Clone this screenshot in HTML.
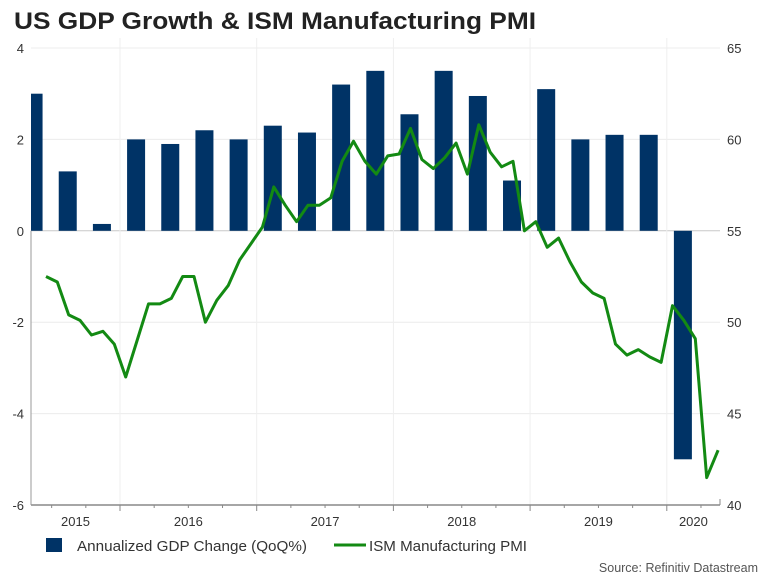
<!DOCTYPE html>
<html><head><meta charset="utf-8"><style>
body{margin:0;background:#fff;font-family:"Liberation Sans",Arial,sans-serif;}
svg text{font-family:"Liberation Sans",Arial,sans-serif;}
</style></head><body>
<svg id="chart" width="768" height="576" viewBox="0 0 768 576" xmlns="http://www.w3.org/2000/svg">
<text x="14" y="29" font-size="24" font-weight="bold" fill="#222" textLength="522" lengthAdjust="spacingAndGlyphs">US GDP Growth &amp; ISM Manufacturing PMI</text>
<g id="grid"></g><g id="bars"></g><g id="line"></g><g id="axes"></g>
<g>
<rect x="46" y="538" width="16" height="14" fill="#003366"/>
<text x="77" y="551" font-size="15" fill="#333" textLength="230" lengthAdjust="spacingAndGlyphs">Annualized GDP Change (QoQ%)</text>
<line x1="334" y1="545" x2="366" y2="545" stroke="#138a13" stroke-width="3"/>
<text x="369" y="551" font-size="15" fill="#333" textLength="158" lengthAdjust="spacingAndGlyphs">ISM Manufacturing PMI</text>
</g>
<text x="758" y="572" font-size="12.5" fill="#555" text-anchor="end">Source: Refinitiv Datastream</text>
</svg>
<script>
const gdpQuarters = ["2015Q2","2015Q3","2015Q4","2016Q1","2016Q2","2016Q3","2016Q4","2017Q1","2017Q2","2017Q3","2017Q4","2018Q1","2018Q2","2018Q3","2018Q4","2019Q1","2019Q2","2019Q3","2019Q4","2020Q1"];
const gdpValues = [3.0,1.3,0.15,2.0,1.9,2.2,2.0,2.3,2.15,3.2,3.5,2.55,3.5,2.95,1.1,3.1,2.0,2.1,2.1,-5.0];
const pmiStartMonth = 5; // months since Jan 2015 (June 2015)
const pmiValues = [52.5,52.2,50.4,50.1,49.3,49.5,48.8,
47.0,49.0,51.0,51.0,51.3,52.5,52.5,50.0,51.2,52.0,53.4,54.3,
55.2,57.4,56.4,55.5,56.4,56.4,56.8,58.8,59.9,58.8,58.1,59.1,
59.2,60.6,58.9,58.4,59.0,59.8,58.1,60.8,59.3,58.5,58.8,55.0,
55.5,54.1,54.6,53.3,52.2,51.6,51.3,48.8,48.2,48.5,48.1,47.8,
50.9,50.1,49.1,41.5,43.0];
const leftTicks = [4,2,0,-2,-4,-6];
const rightTicks = [65,60,55,50,45,40];
const yearLabels = ["2015","2016","2017","2018","2019","2020"];

const X0=31,X1=720,Y0=48,Y1=505;
const NS="http://www.w3.org/2000/svg";
const monthW=136.7/12, jan2015=-16.7;
const xMonth=m=>jan2015+m*monthW;
const yL=v=>Y0+(4-v)*(Y1-Y0)/10;
const yR=v=>Y0+(65-v)*(Y1-Y0)/25;
function mk(tag,attrs,parent){const e=document.createElementNS(NS,tag);for(const k in attrs)e.setAttribute(k,attrs[k]);document.getElementById(parent).appendChild(e);return e;}

leftTicks.forEach(t=>{
  const g=mk('line',{x1:X0,x2:X1,y1:yL(t),y2:yL(t),stroke:t===0?'#c8c8c8':'#ececec','stroke-width':1},'grid');
  
  
  const l=mk('text',{x:24,y:yL(t)+5,'font-size':13,fill:'#333','text-anchor':'end'},'axes');
  l.textContent=t;
  
  
});
rightTicks.forEach(t=>{
  const l=mk('text',{x:727,y:yR(t)+5,'font-size':13,fill:'#333'},'axes');
  l.textContent=t;
  
  
});
yearLabels.forEach((y,i)=>{
  const xs=xMonth(12*(i+1));
  if(i<5){
    const g=mk('line',{x1:xs,x2:xs,y1:Y0-10,y2:Y1,stroke:'#efefef','stroke-width':1},'grid');
    
    
  }
  const a=Math.max(X0,xMonth(12*i)),b=Math.min(X1,xMonth(12*(i+1)));
  const l=mk('text',{x:(a+b)/2,y:526,'font-size':13,fill:'#333','text-anchor':'middle'},'axes');
  l.textContent=y;
  
  
});
for(let q=1;q<=22;q++){
  const x=xMonth(3*q); if(x<X0||x>X1)continue;
  const t=mk('line',{x1:x,x2:x,y1:Y1,y2:Y1+(q%4===0?6:3),stroke:'#888'},'axes');
  
  
}
const bw=18;
gdpValues.forEach((v,i)=>{
  const c=xMonth(3*(i+1)+1.5)-1;
  let x=c-bw/2,w=bw; if(x<X0){w-=X0-x;x=X0;}
  const y=Math.min(yL(v),yL(0)),h=Math.abs(yL(v)-yL(0));
  const r=mk('rect',{x:x,y:y,width:w,height:h,fill:'#003366'},'bars');
  
  
});
const pts=pmiValues.map((v,i)=>xMonth(pmiStartMonth+i+0.5).toFixed(1)+','+yR(v).toFixed(1)).join(' ');
const pl=mk('polyline',{points:pts,fill:'none',stroke:'#138a13','stroke-width':3,'stroke-linejoin':'round'},'line');


const ax=mk('line',{x1:X0,x2:X1,y1:Y1,y2:Y1,stroke:'#888','stroke-width':1.5},'axes');


const la=mk('line',{x1:X0,x2:X0,y1:yL(0),y2:Y1,stroke:'#999'},'axes');


const ra=mk('line',{x1:X1,x2:X1,y1:Y1-6,y2:Y1,stroke:'#888'},'axes');


</script>
</body></html>
